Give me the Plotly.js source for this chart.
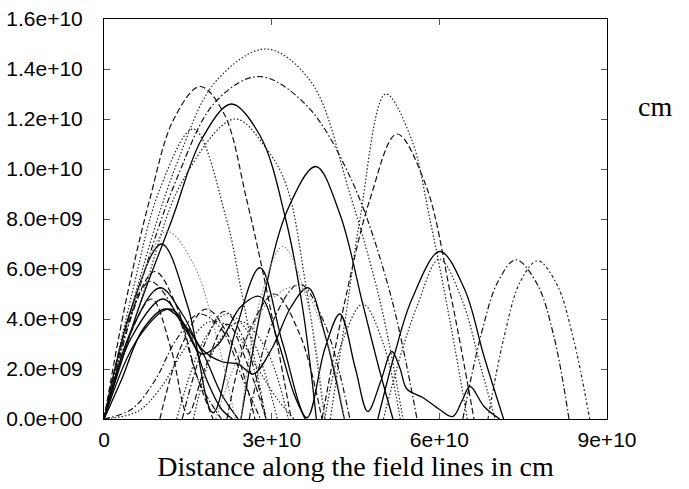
<!DOCTYPE html>
<html><head><meta charset="utf-8">
<script src="https://cdn.plot.ly/plotly-3.0.1.min.js"></script>
<style>html,body{margin:0;padding:0;background:#fff}</style>
</head><body><div id="chart" style="width:689px;height:489px"></div>
<script>
// units: x in 1e10 cm, y in 1e9 cm
const X_UNIT = 1e10, Y_UNIT = 1e9;
const xTickVals = [0, 3, 6, 9];
const xTickText = ['0', '3e+10', '6e+10', '9e+10'];
const yTickVals = [0, 2, 4, 6, 8, 10, 12, 14, 16];
const yTickText = ['0.0e+00','2.0e+09','4.0e+09','6.0e+09','8.0e+09','1.0e+10','1.2e+10','1.4e+10','1.6e+10'];

// field lines (distance along line, height)
const dotA_x = [0,0.6,1.3,2.0,2.9,3.7,4.4,4.95,5.35];
const dotA_y = [0,5.3,10.2,13.5,14.8,13.5,9.0,4.6,0];
const dashdotA_x = [0,0.6,1.3,2.0,2.77,3.6,4.4,5.1,5.6];
const dashdotA_y = [0,5.0,9.6,12.7,13.7,12.6,9.7,5.2,0];
const dashA_x = [0,0.4,0.82,1.25,1.72,2.15,2.55,2.85,3.1,3.35];
const dashA_y = [0,4.8,8.8,12.0,13.3,12.2,8.8,5.8,3.0,0];
const dashB_x = [3.9,4.3,4.76,5.24,5.75,6.2,6.62];
const dashB_y = [0,4.6,8.8,11.4,9.4,5.0,0];
const dotB_x = [4.05,4.35,4.58,5.04,5.5,5.83,6.2,6.5];
const dotB_y = [0,4.5,8.0,13.0,11.2,8.0,3.8,0];
const solidB1_x = [0,0.6,1.22,1.75,2.28,2.8,3.25,3.55,3.8];
const solidB1_y = [0,4.3,8.0,11.2,12.6,11.3,8.0,4.5,0];
const solidB2_x = [2.45,2.85,3.29,3.79,4.22,4.63,4.9,5.17];
const solidB2_y = [0,4.8,8.4,10.1,8.2,4.6,2.2,0];
const solidWave_x = [0,0.5,1.03,1.5,1.95,2.35,2.79,3.2,3.63,3.95,4.22,4.5,4.72,4.95,5.15,5.3,5.42,5.71,6.01,6.24,6.4,6.55,6.8,7.08];
const solidWave_y = [0,4.5,7.0,4.5,0.25,3.5,6.05,3.0,0.05,2.8,4.2,2.0,0.3,1.5,2.7,2.0,1.2,0.85,0.37,0.1,0.7,1.3,0.5,0];
const solidSb_x = [0,0.5,1.0,1.4,1.75,2.1,2.4,2.67,3.0,3.35,3.65,3.95,4.3];
const solidSb_y = [0,3.6,5.25,4.2,2.8,2.3,2.2,1.8,2.8,4.5,5.25,3.4,0];
const solidSc_x = [0,0.5,1.06,1.45,1.75,2.05,2.45,2.79,3.1,3.4,3.6];
const solidSc_y = [0,3.3,4.8,3.6,2.6,3.0,4.5,4.9,3.2,1.0,0];
const solidSd_x = [0,0.6,1.18,1.55,1.85,2.1,2.3];
const solidSd_y = [0,3.2,4.4,3.3,1.5,0.4,0];
const solidSe_x = [0,0.3,0.7,1.1,1.5,1.8,2.1,2.4];
const solidSe_y = [0,1.5,3.6,4.4,3.6,2.5,1.0,0];
const solidHump_x = [4.9,5.2,5.51,6.01,6.45,6.8,7.15];
const solidHump_y = [0,2.6,4.8,6.7,5.2,2.5,0];
const grayDot_x = [0,0.45,1.12,1.6,2.0,2.35];
const grayDot_y = [0,4.0,7.5,6.2,3.4,0];
const dotC_x = [0,0.5,1.0,1.6,2.19,2.45,2.9];
const dotC_y = [0,5.0,9.2,11.6,8.0,5.2,0];
const dotD_x = [0,0.7,1.4,2.34,2.91,3.27,3.6,3.95];
const dotD_y = [0,5.0,9.5,12.0,10.8,9.3,5.5,0];
const dotE_x = [2.45,2.8,3.2,3.6,3.95];
const dotE_y = [0,4.8,6.9,5.0,0];
const dashdotB_x = [0,0.4,0.82,1.3,1.7,2.1];
const dashdotB_y = [0,3.5,5.5,4.2,1.5,0];
const dashC_x = [0,0.45,0.91,1.3,1.65,1.95];
const dashC_y = [0,4.0,5.9,4.5,1.8,0];
const dashD_x = [1.0,1.4,1.83,2.3,2.7];
const dashD_y = [0,3.0,4.4,3.0,0];
const dotF_x = [1.3,1.8,2.2,2.6,3.1];
const dotF_y = [0,3.2,4.2,3.4,0];
const dashdotC_x = [2.6,3.0,3.5,3.95,4.4];
const dashdotC_y = [0,3.8,5.4,3.8,0];
const dotG_x = [3.95,4.25,4.63,5.0,5.3];
const dotG_y = [0,3.0,4.6,3.0,0];
const dashdotR1_x = [6.42,6.75,7.05,7.37,7.75,8.05,8.32];
const dashdotR1_y = [0,3.4,5.5,6.37,5.4,3.3,0];
const dashdotR2_x = [6.87,7.15,7.45,7.76,8.1,8.4,8.69];
const dashdotR2_y = [0,3.2,5.5,6.33,5.4,3.2,0];
const dotH_x = [5.0,5.3,5.6,6.0,6.4,6.75,7.0];
const dotH_y = [0,2.5,4.5,6.4,4.8,2.0,0];
const dashV_x = [0,0.4,0.85,1.2,1.5,1.8,2.2,2.6,2.9];
const dashV_y = [0,3.0,4.8,2.8,0.2,2.0,3.8,2.0,0];
const dashdotSlow_x = [0,0.5,0.9,1.3,1.7,2.1,2.5,2.8];
const dashdotSlow_y = [0,0.4,1.5,3.2,4.2,3.6,1.5,0];
const dotSlow_x = [0,0.6,1.0,1.5,1.9,2.3,2.7,3.1,3.4];
const dotSlow_y = [0,0.3,1.2,3.0,3.9,3.6,2.2,0.8,0];
const dashdotD_x = [1.4,1.8,2.15,2.5,2.9];
const dashdotD_y = [0,3.0,4.3,3.2,0];
const dotI_x = [1.6,2.0,2.45,2.9,3.3];
const dotI_y = [0,2.9,3.9,2.8,0];
const dashE_x = [2.2,2.6,3.05,3.5,3.9];
const dashE_y = [0,3.5,5.0,3.4,0];
const grayDotB_x = [2.0,2.5,3.0,3.5,4.0,4.3];
const grayDotB_y = [0,3.0,4.8,5.3,3.0,0];

const STY = {
  solid: {dash: 'solid', color: '#000', width: 1.3},
  dash: {dash: '6px,3px', color: '#111', width: 1.2},
  dot: {dash: '1.5px,2px', color: '#222', width: 1.2},
  gdot: {dash: '1.5px,2px', color: '#888', width: 1.2},
  dashdot: {dash: '6px,2.5px,1.5px,2.5px', color: '#111', width: 1.2},
  dashdot2: {dash: '3px,2.5px,1.5px,2.5px', color: '#222', width: 1.2}
};
const curves = [
  [dotA_x, dotA_y, 'dot'], [dashdotA_x, dashdotA_y, 'dashdot'], [dashA_x, dashA_y, 'dash'],
  [dashB_x, dashB_y, 'dash'], [dotB_x, dotB_y, 'dot'], [solidB1_x, solidB1_y, 'solid'],
  [solidB2_x, solidB2_y, 'solid'], [solidWave_x, solidWave_y, 'solid'], [solidSb_x, solidSb_y, 'solid'],
  [solidSc_x, solidSc_y, 'solid'], [solidSd_x, solidSd_y, 'solid'], [solidSe_x, solidSe_y, 'solid'],
  [solidHump_x, solidHump_y, 'solid'], [grayDot_x, grayDot_y, 'gdot'], [dotC_x, dotC_y, 'dot'],
  [dotD_x, dotD_y, 'dot'], [dotE_x, dotE_y, 'gdot'], [dashdotB_x, dashdotB_y, 'dashdot'],
  [dashC_x, dashC_y, 'dash'], [dashD_x, dashD_y, 'dash'], [dotF_x, dotF_y, 'dot'],
  [dashdotC_x, dashdotC_y, 'dashdot'], [dotG_x, dotG_y, 'dot'], [dashdotR1_x, dashdotR1_y, 'dashdot'],
  [dashdotR2_x, dashdotR2_y, 'dashdot2'], [dotH_x, dotH_y, 'dot'], [dashV_x, dashV_y, 'dash'],
  [dashdotSlow_x, dashdotSlow_y, 'dashdot'], [dotSlow_x, dotSlow_y, 'dot'],
  [dashdotD_x, dashdotD_y, 'dashdot'], [dotI_x, dotI_y, 'dot'], [dashE_x, dashE_y, 'dash'],
  [grayDotB_x, grayDotB_y, 'gdot']
];
const traces = curves.map(([xs, ys, s]) => ({
  type: 'scatter', mode: 'lines',
  x: xs.map(v => v * X_UNIT), y: ys.map(v => v * Y_UNIT),
  line: Object.assign({shape: 'spline', smoothing: 1}, STY[s]),
  hoverinfo: 'skip', showlegend: false
}));

const tickFont = {family: 'Liberation Sans, Arial, sans-serif', size: 21, color: '#000'};
const layout = {
  width: 689, height: 489,
  margin: {l: 104, r: 82, t: 19, b: 70, pad: 0},
  paper_bgcolor: '#fff', plot_bgcolor: '#fff',
  showlegend: false,
  xaxis: {
    range: [0, 9 * X_UNIT], tickmode: 'array',
    tickvals: xTickVals.map(v => v * X_UNIT), ticktext: xTickText,
    ticks: 'inside', ticklen: 6, tickcolor: '#555', tickwidth: 1,
    showline: true, linecolor: '#000', linewidth: 1, mirror: 'ticks',
    showgrid: false, zeroline: false, tickfont: tickFont, ticklabelstandoff: 2,
    title: {text: 'Distance along the field lines in cm', standoff: 5,
            font: {family: 'Liberation Serif, Times New Roman, serif', size: 28, color: '#000'}},
    automargin: false
  },
  yaxis: {
    range: [0, 16 * Y_UNIT], tickmode: 'array',
    tickvals: yTickVals.map(v => v * Y_UNIT), ticktext: yTickText,
    ticks: 'inside', ticklen: 6, tickcolor: '#555', tickwidth: 1,
    showline: true, linecolor: '#000', linewidth: 1, mirror: 'ticks',
    showgrid: false, zeroline: false, tickfont: tickFont, ticklabelstandoff: 16,
    automargin: false
  },
  annotations: [{
    text: 'cm', xref: 'paper', yref: 'paper', x: 1.0954, y: 0.78,
    xanchor: 'center', yanchor: 'middle', showarrow: false,
    font: {family: 'Liberation Serif, Times New Roman, serif', size: 28, color: '#000'}
  }]
};
Plotly.newPlot('chart', traces, layout, {staticPlot: true, displayModeBar: false});
</script></body></html>
